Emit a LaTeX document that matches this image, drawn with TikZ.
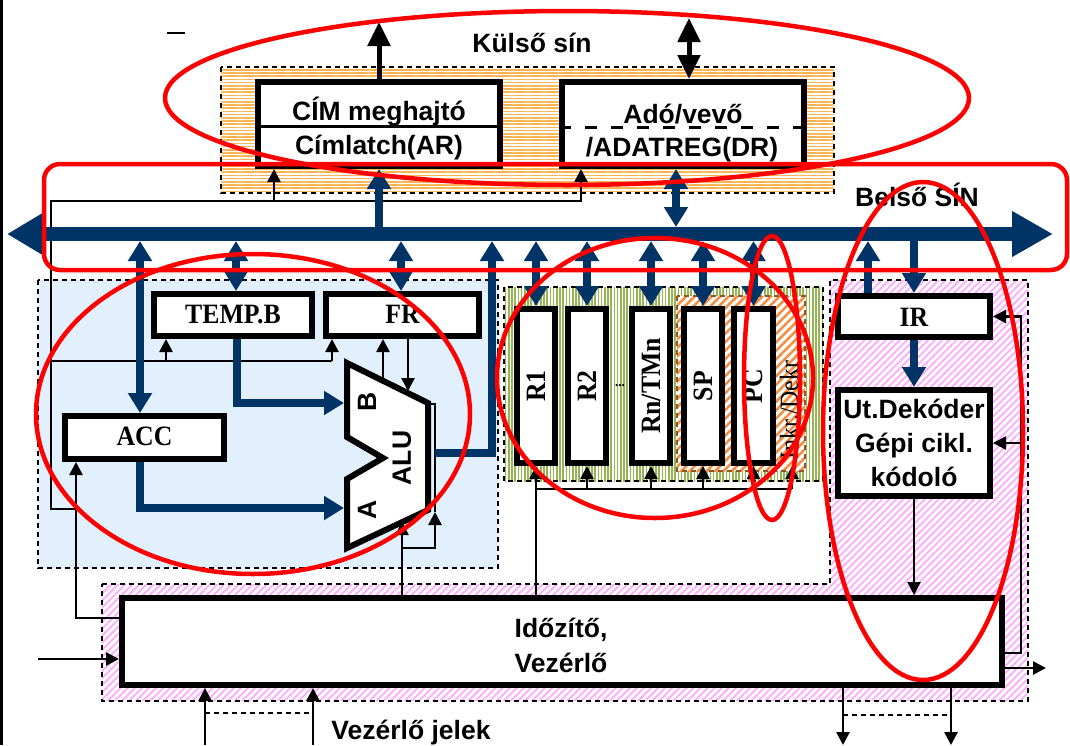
\documentclass[tikz,border=0pt]{standalone}
\usepackage{fontspec}
\setmainfont{Liberation Sans}
\newfontfamily\tms[FakeStretch=0.92]{Liberation Serif}
\usetikzlibrary{arrows.meta,patterns.meta}
\definecolor{dblue}{RGB}{0,51,102}
\definecolor{lblue}{RGB}{226,239,253}
\definecolor{orst}{RGB}{255,178,80}
\definecolor{grst}{RGB}{150,182,84}
\definecolor{spst}{RGB}{247,140,60}
\definecolor{pkst}{RGB}{255,170,255}
\begin{document}
\begin{tikzpicture}[x=1pt,y=-1pt,
 box/.style={draw,line width=6pt,fill=white,inner sep=0pt},
 sl/.style={font=\bfseries\fontsize{26.5}{34}\selectfont,inner sep=0pt},
 tl/.style={font=\tms\bfseries\fontsize{28}{32}\selectfont,inner sep=0pt},
 region/.style={draw,dash pattern=on 5pt off 4pt,line width=1.3pt},
 bl/.style={draw=dblue,line width=8pt},
 barrow/.style={bl,-{Triangle[width=23pt,length=20pt]}},
 bdarrow/.style={bl,{Triangle[width=23pt,length=20pt]}-{Triangle[width=23pt,length=20pt]}},
 tn/.style={draw=black,line width=2.6pt},
 tarrow/.style={tn,-{Triangle[width=13pt,length=13pt]}},
 thk/.style={draw=black,line width=5pt,-{Triangle[width=22pt,length=24pt]}},
 thkd/.style={draw=black,line width=5pt,{Triangle[width=22pt,length=24pt]}-{Triangle[width=22pt,length=24pt]}},
 redmark/.style={draw=red,line width=4.5pt},
]
\fill[white] (0,0) rectangle (1070,745);
\useasboundingbox (0,0) rectangle (1070,745);
\fill[black] (0,0) rectangle (3,745);
\draw[line width=2pt] (167,33) -- (185,33);

% ---------- regions ----------
\path[pattern={Lines[angle=45,distance=5pt,line width=1.8pt]},pattern color=pkst]
  (102,584) -- (830,584) -- (830,280) -- (1028,280) -- (1028,701) -- (102,701) -- cycle;
\draw[region] (102,584) -- (830,584) -- (830,280) -- (1028,280) -- (1028,701) -- (102,701) -- cycle;
\path[region,fill=lblue] (38,280) rectangle (498,568);
\path[pattern={Lines[angle=0,distance=3.2pt,line width=1.6pt]},pattern color=orst] (221,67) rectangle (834,193);
\draw[region] (221,67) rectangle (834,193);
\path[pattern={Lines[angle=90,distance=3.2pt,line width=1.7pt]},pattern color=grst] (504,287) rectangle (823,481);
\draw[region] (504,287) rectangle (823,481);
\path[fill=white] (677,296) rectangle (805,471);
\path[pattern={Lines[angle=45,distance=6pt,line width=2.5pt]},pattern color=spst] (677,296) rectangle (805,471);
\draw[region,draw=spst!60!black] (677,296) rectangle (805,471);

% ---------- boxes ----------
\node[box,minimum width=242pt,minimum height=84pt] (cim) at (379,124) {};
\node[box,minimum width=242pt,minimum height=84pt] (ado) at (683,124) {};
\node[box,minimum width=158pt,minimum height=42pt] (tempb) at (233,315) {};
\node[box,minimum width=153pt,minimum height=42pt] (fr) at (402.5,315) {};
\node[box,minimum width=159pt,minimum height=43pt] (acc) at (144.5,437.5) {};
\node[box,minimum width=38pt,minimum height=154pt] (r1) at (536,386) {};
\node[box,minimum width=38pt,minimum height=154pt] (r2) at (587,386) {};
\node[box,minimum width=38pt,minimum height=154pt] (rn) at (651,386) {};
\node[box,minimum width=38pt,minimum height=154pt] (sp) at (703,386) {};
\node[box,minimum width=39pt,minimum height=154pt] (pc) at (753.5,386) {};
\node[box,minimum width=152pt,minimum height=41pt] (ir) at (914,316.5) {};
\node[box,minimum width=152pt,minimum height=106pt] (dek) at (914,443) {};
\node[box,minimum width=880pt,minimum height=87pt] (tim) at (562,641.5) {};

% ALU shape
\draw[line width=6pt,fill=white,line join=miter]
  (347,363) -- (428,403) -- (428,510) -- (347,548) -- (347,479) -- (383,458) -- (347,437) -- cycle;
\draw[line width=2pt] (428,404) -- (435,404) -- (435,512);

% box internals
\draw[line width=3pt] (cim.west |- 0,126) -- (cim.east |- 0,126);

% ---------- text ----------
\node[sl,anchor=base] (cimA) at (379,120) {CÍM meghajtó};
\node[sl,anchor=base] (cimB) at (379,154) {Címlatch(AR)};
\node[sl,anchor=base] (adoA) at (683,123) {Adó/vevő};
\node[sl,anchor=base] (adoB) at (682,156) {/ADATREG(DR)};
\draw[line width=3pt,dash pattern=on 12pt off 14pt] (ado.west |- 0,127) -- (ado.east |- 0,127);
\node[sl,anchor=base] (kulso) at (532,52) {Külső sín};
\node[sl,anchor=base] (belso) at (917,206) {Belső SÍN};
\node[tl,anchor=base] (tempbt) at (233,323) {TEMP.B};
\node[tl,anchor=base] (frt) at (402.5,323) {FR};
\node[tl,anchor=base] (acct) at (144.5,445) {ACC};
\node[tl,anchor=base] (irt) at (914,326) {IR};
\node[tl,rotate=90] (r1t) at (r1) {R1};
\node[tl,rotate=90] (r2t) at (r2) {R2};
\node[tl,rotate=90] (rnt) at (rn) {Rn/TMn};
\node[tl,rotate=90] (spt) at (sp) {SP};
\node[tl,rotate=90] (pct) at (pc) {PC};
\node[font=\tms\fontsize{26}{30}\selectfont,inner sep=0pt,rotate=90] (inkr) at (789,410) {Inkr./Dekr};
\node[font=\tms\bfseries\fontsize{14}{14}\selectfont,inner sep=0pt] (dots) at (620,386) {...};
\node[sl,align=center] (dekt) at (dek) {Ut.Dekóder\\Gépi cikl.\\kódoló};
\node[sl,align=center,anchor=base] (timA) at (561,637) {Időzítő,};
\node[sl,align=center,anchor=base] (timB) at (561,672) {Vezérlő};
\node[sl,anchor=base] (vjel) at (411,739) {Vezérlő jelek};
\node[sl,rotate=90] (aluBt) at (367,402) {B};
\node[sl,rotate=90] (alut) at (402,458) {ALU};
\node[sl,rotate=90] (aluAt) at (367,510) {A};

% ---------- black thin connectors ----------
\coordinate (c1) at (76,618);
\coordinate (c2) at (76,509);
\coordinate (c3) at (51,201);
\coordinate (c4) at (581,201);
\coordinate (c5) at (274,201);
\draw[tarrow] (tim.west |- c1) -- (c1) -- (c1 |- acc.south);
\draw[tarrow] (c2) -- (c2 -| c3) -- (c3) -- (c4) -- (c4 |- ado.south);
\draw[tarrow] (c5) -- (c5 |- cim.south);
\coordinate (c6) at (51,361);
\coordinate (c7) at (332,361);
\coordinate (c8) at (166,361);
\draw[tn] (c6) -- (c7);
\draw[tarrow] (c7) -- (c7 |- fr.south);
\draw[tarrow] (c8) -- (c8 |- tempb.south);
\coordinate (a1) at (383,381);
\coordinate (a2) at (408,391);
\draw[tarrow] (a1) -- (a1 |- fr.south);
\draw[tarrow] (a2 |- fr.south) -- (a2);
\coordinate (a3) at (402,522);
\coordinate (a4) at (402,548);
\coordinate (a5) at (435,512);
\draw[tarrow] (a3 |- tim.north) -- (a3);
\draw[tarrow] (a4) -| (a5);
\coordinate (g1) at (536,489);
\coordinate (g2) at (792,489);
\coordinate (ink) at (792,466);
\draw[tn] (g1 |- tim.north) -- (g1) -- (g2);
\draw[tarrow] (r1.south |- g1) -- (r1.south);
\draw[tarrow] (r2.south |- g1) -- (r2.south);
\draw[tarrow] (rn.south |- g1) -- (rn.south);
\draw[tarrow] (sp.south |- g1) -- (sp.south);
\draw[tarrow] (pc.south |- g1) -- (pc.south);
\draw[tarrow] (g2) -- (ink);
\draw[tarrow] (dek.south) -- (dek.south |- tim.north);
\coordinate (q1) at (1021,653);
\coordinate (q2) at (1021,443);
\draw[tarrow] (tim.east |- q1) -- (q1) |- (ir.east);
\draw[tarrow] (q2) -- (dek.east);
\coordinate (in1) at (38,659);
\draw[tarrow] (in1) -- (in1 -| tim.west);
\coordinate (out1) at (1046,668);
\draw[tarrow] (out1 -| tim.east) -- (out1);
\coordinate (v1) at (205,745);
\coordinate (v2) at (313,745);
\draw[tarrow] (v1) -- (v1 |- tim.south);
\draw[tarrow] (v2) -- (v2 |- tim.south);
\coordinate (v3) at (205,713);
\coordinate (v4) at (313,713);
\draw[line width=1.3pt,dash pattern=on 5pt off 4pt] (v3) -- (v4);
\coordinate (o1) at (843,745);
\coordinate (o2) at (951,745);
\draw[tarrow] (o1 |- tim.south) -- (o1);
\draw[tarrow] (o2 |- tim.south) -- (o2);
\coordinate (o3) at (843,715);
\coordinate (o4) at (951,715);
\draw[line width=1.3pt,dash pattern=on 5pt off 4pt] (o3) -- (o4);

% ---------- black thick (external bus) ----------
\coordinate (xA) at (379,22);
\coordinate (xD) at (689,18);
\draw[thk] (cim.north) -- (xA);
\draw[thkd] (xD) -- (xD |- ado.north);

% ---------- blue connectors ----------
\coordinate (kCim) at (379,227);
\coordinate (kAdo) at (676,227);
\coordinate (kAcc) at (140,241);
\coordinate (kTmp) at (236,241);
\coordinate (kFr) at (401,241);
\coordinate (kAlu) at (492,241);
\coordinate (aluOut) at (435,453);
\coordinate (kIRu) at (868,241);
\coordinate (aluB) at (344,403);
\coordinate (aluA) at (344,508);
\draw[barrow] (kCim) -- (cim.south);
\draw[bdarrow] (kAdo) -- (kAdo |- ado.south);
\draw[bdarrow] (kAcc) -- (kAcc |- acc.north);
\draw[bdarrow] (kTmp) -- (kTmp |- tempb.north);
\draw[bdarrow] (kFr) -- (kFr |- fr.north);
\draw[barrow] (aluOut) -| (kAlu);
\draw[bdarrow] (r1.north |- kAcc) -- (r1.north);
\draw[bdarrow] (r2.north |- kAcc) -- (r2.north);
\draw[bdarrow] (rn.north |- kAcc) -- (rn.north);
\draw[bdarrow] (sp.north |- kAcc) -- (sp.north);
\draw[bdarrow] (pc.north |- kAcc) -- (pc.north);
\draw[barrow] (kIRu |- ir.north) -- (kIRu);
\draw[barrow] (ir.north |- kAcc) -- (ir.north);
\draw[barrow] (ir.south) -- (dek.north);
\draw[barrow] ([xshift=4pt]tempb.south) |- (aluB);
\draw[barrow] (acc.south -| kAcc) |- (aluA);

% internal bus
\coordinate (busL) at (7,234);
\coordinate (busR) at (1053,234);
\draw[draw=dblue,line width=14pt,{Triangle[width=42pt,length=38pt]}-{Triangle[width=43pt,length=41pt]}] (busL) -- (busR);

% ---------- red annotations ----------
\draw[redmark] (567,98) ellipse [x radius=402, y radius=87];
\draw[redmark,rounded corners=16pt] (44,164) rectangle (1067,270);
\draw[redmark] (253,414) ellipse [x radius=217, y radius=160];
\draw[redmark] (655,378) ellipse [x radius=158, y radius=140];
\draw[redmark] (772,378) ellipse [x radius=28, y radius=142];
\draw[redmark] (923,431) ellipse [x radius=100, y radius=249];
\end{tikzpicture}
\end{document}
